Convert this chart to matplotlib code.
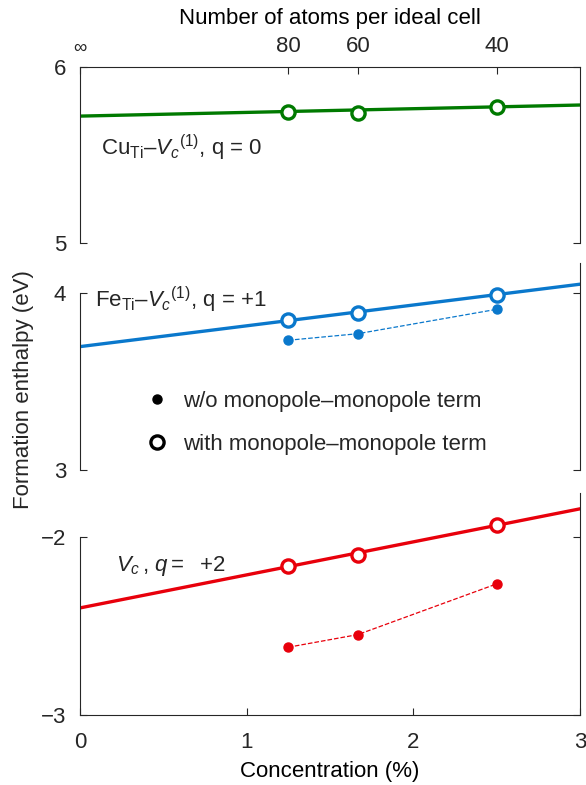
import matplotlib
matplotlib.use("Agg")
import matplotlib.pyplot as plt
from matplotlib.lines import Line2D

plt.rcParams['font.family'] = ['Liberation Sans', 'DejaVu Sans']
plt.rcParams['mathtext.fontset'] = 'custom'
plt.rcParams['mathtext.rm'] = 'Liberation Sans'
plt.rcParams['mathtext.it'] = 'Liberation Sans:italic'
plt.rcParams['text.color'] = '#262626'
plt.rcParams['axes.edgecolor'] = '#262626'
plt.rcParams['xtick.color'] = '#262626'
plt.rcParams['ytick.color'] = '#262626'

# concentration (%) of the 80, 60, 40 atom cells
conc = [1.25, 1.667, 2.5]
top_ticks = [0, 1.25, 1.667, 2.5]
top_labels = ['\u221e', '80', '60', '40']
fit_x = [0, 3]

# Cu_Ti - Vc(1), q = 0
cu_with = [5.747, 5.738, 5.772]
cu_fit = [5.721, 5.784]
# Fe_Ti - Vc(1), q = +1
fe_with = [3.847, 3.887, 3.992]
fe_wo = [3.734, 3.771, 3.909]
fe_fit = [3.698, 4.051]
# Vc, q = +2
vc_with = [-2.163, -2.103, -1.931]
vc_wo = [-2.619, -2.548, -2.263]
vc_fit = [-2.398, -1.841]

green = '#007a00'
blue = '#0a78cc'
red = '#e8000b'
fs = 16

fig = plt.figure(figsize=(5.86, 7.85), dpi=100)
L, W = 80/586, 500/586
ax1 = fig.add_axes([L, 1-243/785, W, 176/785])
ax2 = fig.add_axes([L, 1-470/785, W, 207/785])
ax3 = fig.add_axes([L, 1-715/785, W, 222/785])

for ax in (ax1, ax2, ax3):
    ax.set_xlim(0, 3)
    ax.tick_params(direction='in', length=5, width=0.8, labelsize=fs,
                   left=True, right=True, top=False, bottom=False,
                   labelbottom=False)
    ax.tick_params(axis='y', pad=10)
    for s in ax.spines.values():
        s.set_linewidth(0.8)
    ax.spines['bottom'].set_visible(False)
    ax.spines['top'].set_visible(False)

# top panel
ax1.set_ylim(5, 6)
ax1.set_yticks([5, 6])
ax1.spines['top'].set_visible(True)
ax1.set_xticks(top_ticks)
ax1.set_xticklabels(top_labels)
ax1.tick_params(axis='x', top=True, labeltop=True, pad=7)
ax1.get_xticklabels()[0].set_fontsize(13.5)
ax1.set_xlabel('Number of atoms per ideal cell', fontsize=fs, labelpad=9)
ax1.xaxis.set_label_position('top')
ax1.plot(fit_x, cu_fit, color=green, lw=2.4)
ax1.plot(conc, cu_with, 'o', mfc='white', mec=green, mew=2.4, ms=9.5)
ax1.text(0.124, 5.54, r'Cu$_{\mathrm{Ti}}$–$V_c{}^{(1)}$, q = 0', fontsize=fs,
         va='center')

# middle panel
ax2.set_ylim(3, 4.171)
ax2.set_yticks([3, 4])
ax2.spines['left'].set_bounds(3, 4)
ax2.plot(fit_x, fe_fit, color=blue, lw=2.4)
ax2.plot(conc, fe_wo, '--', color=blue, lw=0.9, marker='o', ms=6.5)
ax2.plot(conc, fe_with, 'o', mfc='white', mec=blue, mew=2.4, ms=9.5)
ax2.text(0.09, 3.96, r'Fe$_{\mathrm{Ti}}$–$V_c{}^{(1)}$, q = +1', fontsize=fs,
         va='center')
handles = [Line2D([], [], ls='none', marker='o', color='black', ms=6.5),
           Line2D([], [], ls='none', marker='o', mfc='white', mec='black',
                  mew=2.4, ms=9.5)]
ax2.legend(handles, ['w/o monopole\u2013monopole term',
                     'with monopole\u2013monopole term'],
           loc='upper left', bbox_to_anchor=(0.092, 0.48), frameon=False,
           fontsize=fs, handlelength=1.0, handletextpad=0.65, labelspacing=1.0)

# bottom panel
ax3.set_ylim(-3, -1.752)
ax3.set_yticks([-3, -2])
ax3.spines['left'].set_bounds(-3, -2)
ax3.spines['bottom'].set_visible(True)
ax3.set_xticks([0, 1, 2, 3])
ax3.tick_params(axis='x', bottom=True, labelbottom=True, pad=12)
ax3.set_xlabel('Concentration (%)', fontsize=fs, labelpad=6)
ax3.plot(fit_x, vc_fit, color=red, lw=2.4)
ax3.plot(conc, vc_wo, '--', color=red, lw=0.9, marker='o', ms=6.5)
ax3.plot(conc, vc_with, 'o', mfc='white', mec=red, mew=2.4, ms=9.5)
ax3.text(0.216, -2.165, r'$V_c\,$, $q =$  +2', fontsize=fs, va='center')

fig.text(24/586, 1-390/785, 'Formation enthalpy (eV)', fontsize=fs,
         rotation=90, ha='center', va='center')

fig.savefig('out.png', dpi=100)
